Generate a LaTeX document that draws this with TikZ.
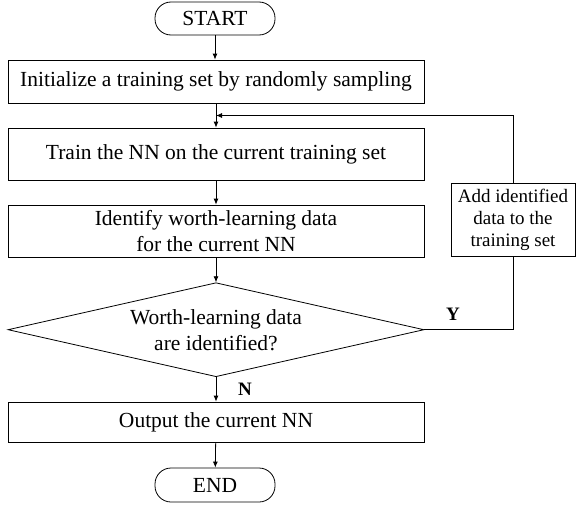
\documentclass[tikz,border=0pt]{standalone}
\usepackage{fontspec}
\setmainfont{Liberation Serif}
\usetikzlibrary{shapes.geometric,arrows.meta}
\begin{document}
\begin{tikzpicture}[x=1pt,y=-1pt,
  every node/.style={font=\fontsize{21.5}{26}\selectfont, align=center, inner sep=0pt},
  term/.style={draw, rounded corners=16pt, minimum width=120pt},
  proc/.style={draw, minimum width=416pt},
  dec/.style={draw, shape=diamond, aspect=4.4, minimum width=416pt, minimum height=94pt},
  side/.style={draw, font=\fontsize{19}{22}\selectfont, minimum width=124pt, minimum height=73pt},
  lbl/.style={font=\fontsize{19}{22}\selectfont\bfseries},
  conn/.style={line width=0.8pt},
  arr/.style={conn, -{Latex[length=6pt,width=5pt]}},
  every path/.style={line width=0.8pt}]
\useasboundingbox (0,0) rectangle (577,506);
\node[term, minimum height=33pt] (start) at (215,18.5) {START};
\node[proc, minimum height=43pt] (init) at (216,81.5) {Initialize a training set by randomly sampling};
\node[proc, minimum height=52pt] (train) at (216,154) {Train the NN on the current training set};
\node[proc, minimum height=52pt] (ident) at (216,231) {Identify worth-learning data\\for the current NN};
\node[dec] (dec) at (216,329.7) {Worth-learning data\\are identified?};
\node[side] (add) at (513,219.5) {Add identified\\data to the\\training set};
\node[proc, minimum height=40pt] (out) at (216,422) {Output the current NN};
\node[term, minimum height=34pt] (end) at (215,485) {END};
\coordinate (join) at (216,115.5);
\node[lbl] (y) at (453,314) {Y};
\node[lbl] (n) at (245,389) {N};
\draw[arr] (start) -- (start |- init.north);
\draw[arr] (init) -- (train);
\draw[arr] (train) -- (ident);
\draw[arr] (ident) -- (dec);
\draw[arr] (dec) -- (out);
\draw[arr] (out) -- (end);
\draw[conn] (dec.east) -| (add.south);
\draw[arr] (add.north) |- (join);
\end{tikzpicture}
\end{document}
